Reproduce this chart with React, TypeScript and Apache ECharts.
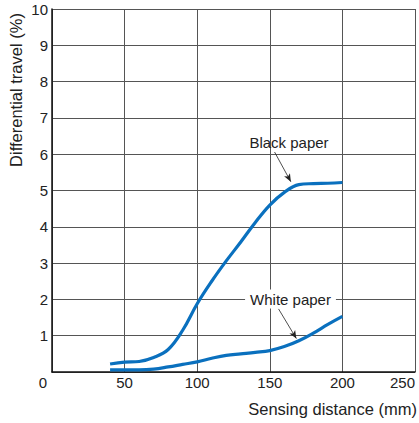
import React, { useEffect, useRef } from "react";
import * as echarts from "echarts";

const distances = [40, 50, 60, 70, 80, 90, 100, 110, 120, 130, 140, 150, 160, 170, 180, 190, 200];
const blackPaper = [0.22, 0.27, 0.29, 0.4, 0.62, 1.15, 1.88, 2.5, 3.06, 3.58, 4.12, 4.6, 4.95, 5.16, 5.19, 5.2, 5.22];
const whitePaper = [0.06, 0.06, 0.06, 0.08, 0.14, 0.21, 0.28, 0.38, 0.46, 0.5, 0.54, 0.59, 0.7, 0.86, 1.07, 1.31, 1.53];
const xTicks = [0, 50, 100, 150, 200, 250];
const yTicks = [0, 1, 2, 3, 4, 5, 6, 7, 8, 9, 10];
const blackArrow = [[153.3, 6.06], [164.5, 5.24]];
const whiteArrow = [[156, 1.74], [168.3, 0.92]];

const FONT = "Liberation Sans, Arial, sans-serif";
const BLUE = "#0a70be";
const TXT = "#222";

export default function App() {
  const ref = useRef<HTMLDivElement>(null);
  useEffect(() => {
    const chart = echarts.init(ref.current!, null, { renderer: "svg" });
    const arrowLine = (pts: number[][]) => ({
      silent: true,
      symbol: ["none", "arrow"],
      symbolSize: [5, 8],
      label: { show: false },
      lineStyle: { color: "#222", width: 0.8, type: "solid" },
      data: [[{ coord: pts[0] }, { coord: pts[1] }]],
    });
    chart.setOption({
      animation: false,
      grid: { left: 52, right: 4, top: 9, bottom: 51, containLabel: false, outerBoundsMode: "none" },
      xAxis: {
        type: "value",
        min: xTicks[0],
        max: xTicks[xTicks.length - 1],
        interval: 50,
        axisLine: { show: true, onZero: false, lineStyle: { color: "#111", width: 1.5 } },
        axisTick: { show: false },
        splitLine: { show: true, lineStyle: { color: "#555", width: 1 } },
        axisLabel: {
          margin: 3,
          fontSize: 15,
          color: TXT,
          fontFamily: FONT,
          alignMinLabel: "right",
          alignMaxLabel: "right",
          formatter: (v: number) => (v === 0 ? "{o|0}" : String(v)),
          rich: { o: { fontSize: 15, color: TXT, fontFamily: FONT, padding: [0, 5, 0, 0] } },
        },
      },
      yAxis: {
        type: "value",
        min: yTicks[0],
        max: yTicks[yTicks.length - 1],
        interval: 1,
        axisLine: { show: true, onZero: false, lineStyle: { color: "#111", width: 1.5 } },
        axisTick: { show: false },
        splitLine: { show: true, lineStyle: { color: "#555", width: 1 } },
        axisLabel: {
          margin: 4,
          fontSize: 15,
          color: TXT,
          fontFamily: FONT,
          showMinLabel: false,
        },
      },
      series: [
        {
          name: "Black paper",
          type: "line",
          data: distances.map((d, i) => [d, blackPaper[i]]),
          smooth: 0.4,
          showSymbol: false,
          lineStyle: { color: BLUE, width: 3.2 },
          markLine: arrowLine(blackArrow),
        },
        {
          name: "White paper",
          type: "line",
          data: distances.map((d, i) => [d, whitePaper[i]]),
          smooth: 0.4,
          showSymbol: false,
          lineStyle: { color: BLUE, width: 3.2 },
          markLine: arrowLine(whiteArrow),
        },
      ],
      graphic: [
        {
          type: "text",
          x: 16,
          y: 90,
          rotation: Math.PI / 2,
          style: {
            text: "Differential travel (%)",
            font: `16.5px ${FONT}`,
            fill: TXT,
            align: "center",
            verticalAlign: "middle",
          },
        },
        {
          type: "text",
          x: 417,
          y: 409,
          style: {
            text: "Sensing distance (mm)",
            font: `16.5px ${FONT}`,
            fill: TXT,
            align: "right",
            verticalAlign: "middle",
          },
        },
        {
          type: "text",
          x: 289,
          y: 142,
          z: 10,
          style: {
            text: "Black paper",
            font: `15px ${FONT}`,
            fill: TXT,
            align: "center",
            verticalAlign: "middle",
          },
        },
        {
          type: "text",
          x: 290.5,
          y: 299,
          z: 10,
          style: {
            text: "White paper",
            font: `15px ${FONT}`,
            fill: TXT,
            align: "center",
            verticalAlign: "middle",
            backgroundColor: "#fff",
            padding: [2, 5, 2, 5],
          },
        },
      ],
    });
    return () => chart.dispose();
  }, []);
  return <div ref={ref} style={{ width: 419, height: 423, position: "absolute", left: 0, top: 0 }} />;
}
